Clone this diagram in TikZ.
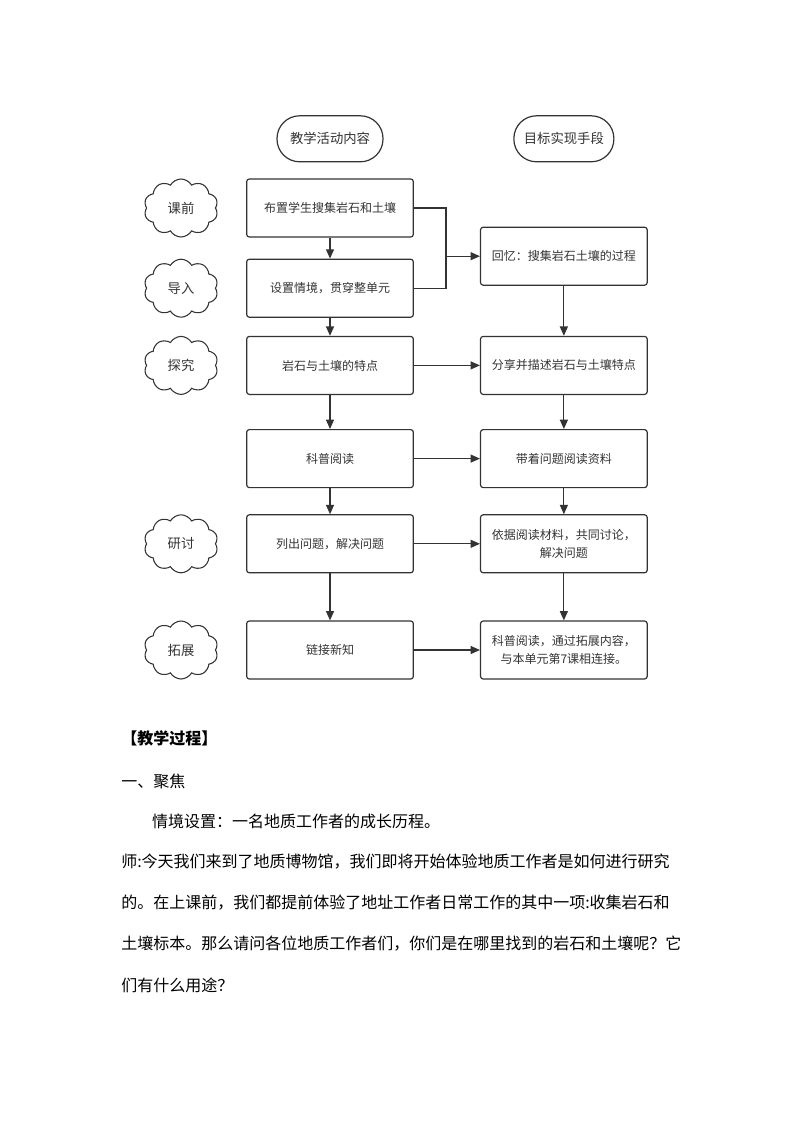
\documentclass[tikz,border=0pt]{standalone}
\usepackage{fontspec}
\setmainfont{Noto Sans CJK SC}
\usetikzlibrary{shapes.symbols, positioning, arrows.meta, calc}
\definecolor{linegray}{HTML}{333333}

\begin{document}
\begin{tikzpicture}[
    stage/.style={draw=linegray, line width=0.9pt, rounded corners=2pt, minimum width=125pt, minimum height=43.5pt, align=center, text=linegray, font=\fontsize{9}{13}\selectfont},
    title/.style={draw=linegray, line width=0.9pt, rounded corners=17pt, minimum height=34.5pt, text=linegray, font=\fontsize{10}{12}\selectfont},
    phase/.style={cloud, cloud puffs=10, cloud puff arc=120, aspect=1.3, draw=linegray, line width=0.8pt, minimum width=55.5pt, minimum height=43.5pt, inner sep=0pt, text=linegray, font=\fontsize{10}{12}\selectfont},
    flow/.style={-{Triangle[length=7pt, width=6pt]}, line width=0.9pt, draw=linegray},
    para/.style={anchor=west, inner sep=0pt, font=\fontsize{12}{14}\selectfont}
]
    \useasboundingbox (0,0) rectangle (595.5pt,-842.25pt);

    % Left column: activities
    \node[stage] (assign) at (247.5pt,-156pt) {布置学生搜集岩石和土壤};
    \node[stage, below=15.75pt of assign] (intro) {设置情境，贯穿整单元};
    \node[stage, below=13.5pt of intro] (feature) {岩石与土壤的特点};
    \node[stage, below=25.5pt of feature] (reading) {科普阅读};
    \node[stage, below=19.5pt of reading] (question) {列出问题，解决问题};
    \node[stage, below=35.25pt of question] (link) {链接新知};

    % Right column: means
    \node[stage, right=49.5pt of feature] (share) {分享并描述岩石与土壤特点};
    \node[stage, above=37.5pt of share] (recall) {回忆：搜集岩石土壤的过程};
    \node[stage, right=49.5pt of reading] (readq) {带着问题阅读资料};
    \node[stage, right=49.5pt of question] (discuss) {依据阅读材料，共同讨论，\\解决问题};
    \node[stage, right=49.5pt of link] (extend) {科普阅读，通过拓展内容，\\与本单元第7课相连接。};

    % Column titles
    \node[title, minimum width=79.5pt, above=12pt of assign] (activity) {教学活动内容};
    \node[title, minimum width=75pt] (means) at (activity -| recall) {目标实现手段};

    % Phases
    \node[phase, left=22.5pt of assign] (before) {课前};
    \node[phase, left=22.5pt of intro] (lead) {导入};
    \node[phase, left=22.5pt of feature] (explore) {探究};
    \node[phase, left=22.5pt of question] (study) {研讨};
    \node[phase, left=22.5pt of link] (expand) {拓展};

    % Arrows connecting components
    \coordinate (bend) at ($(assign.east)+(24pt,0)$);
    \draw[line width=0.9pt, draw=linegray] (assign.east) -- (bend) |- (intro.east);
    \draw[flow] (bend |- recall.west) -- (recall.west);
    \draw[flow] (assign) -- (intro);
    \draw[flow] (intro) -- (feature);
    \draw[flow] (feature) -- (reading);
    \draw[flow] (reading) -- (question);
    \draw[flow] (question) -- (link);
    \draw[flow] (recall) -- (share);
    \draw[flow] (share) -- (readq);
    \draw[flow] (readq) -- (discuss);
    \draw[flow] (discuss) -- (extend);
    \draw[flow] (feature) -- (share);
    \draw[flow] (reading) -- (readq);
    \draw[flow] (question) -- (discuss);
    \draw[flow] (link) -- (extend);

    % Text below the chart
    \node[para, font=\fontsize{12}{14}\selectfont\bfseries] (heading) at (90.75pt,-553.5pt) {【教学过程】};
    \node[para] (focus) at (90.75pt,-586.3pt) {一、聚焦};
    \node[para] (scene) at (113.8pt,-616.3pt) {情境设置：一名地质工作者的成长历程。};
    \node[para] (lineA) at (90.75pt,-646.5pt) {师:今天我们来到了地质博物馆，我们即将开始体验地质工作者是如何进行研究};
    \node[para] (lineB) at (90.75pt,-677.25pt) {的。在上课前，我们都提前体验了地址工作者日常工作的其中一项:收集岩石和};
    \node[para] (lineC) at (90.75pt,-708pt) {土壤标本。那么请问各位地质工作者们，你们是在哪里找到的岩石和土壤呢？它};
    \node[para] (lineD) at (90.75pt,-738.75pt) {们有什么用途？};
\end{tikzpicture}
\end{document}
